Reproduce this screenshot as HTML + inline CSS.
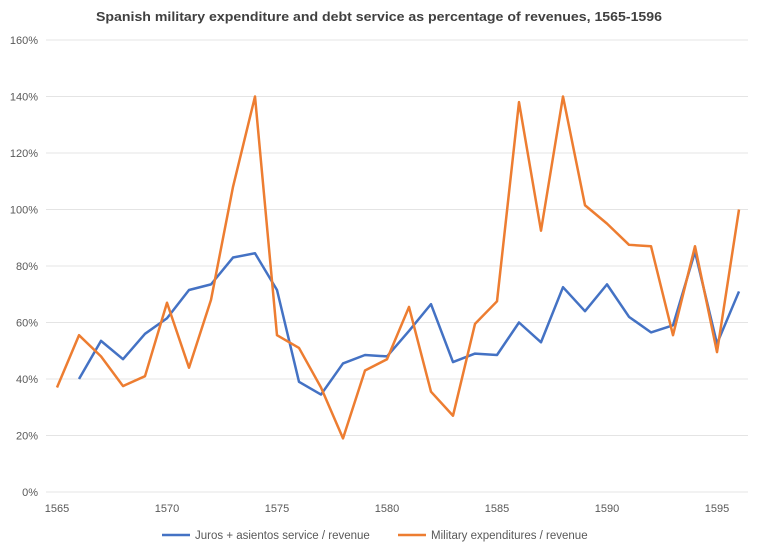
<!DOCTYPE html>
<html><head><meta charset="utf-8"><style>
body{margin:0;background:#fff;font-family:"Liberation Sans",sans-serif;}
svg text{font-family:"Liberation Sans",sans-serif;fill:#595959;}
</style></head><body>
<svg width="758" height="550">
<text x="379" y="21" text-anchor="middle" font-size="13" font-weight="bold" textLength="566" lengthAdjust="spacingAndGlyphs" style="fill:#404040">Spanish military expenditure and debt service as percentage of revenues, 1565-1596</text>
<g id="grid"></g><g id="xt"></g><g id="lines"></g>
<g>
<line x1="162" y1="535" x2="190" y2="535" stroke="#4472C4" stroke-width="2.5"/>
<text x="195" y="539" font-size="11.5">Juros + asientos service / revenue</text>
<line x1="398" y1="535" x2="426" y2="535" stroke="#ED7D31" stroke-width="2.5"/>
<text x="431" y="539" font-size="11.5">Military expenditures / revenue</text>
</g>
</svg>
<script>
const yTicks=[0,20,40,60,80,100,120,140,160];
const xTicks=[1565,1570,1575,1580,1585,1590,1595];
const militaryYears=[1565,1566,1567,1568,1569,1570,1571,1572,1573,1574,1575,1576,1577,1578,1579,1580,1581,1582,1583,1584,1585,1586,1587,1588,1589,1590,1591,1592,1593,1594,1595,1596];
const military=[37,55.5,48,37.5,41,67,44,68,108,140,55.5,51,37,19,43,47,65.5,35.5,27,59.5,67.5,138,92.5,140,101.5,95,87.5,87,55.5,87,49.5,100];
const jurosYears=[1566,1567,1568,1569,1570,1571,1572,1573,1574,1575,1576,1577,1578,1579,1580,1581,1582,1583,1584,1585,1586,1587,1588,1589,1590,1591,1592,1593,1594,1595,1596];
const juros=[40,53.5,47,56,61.5,71.5,73.5,83,84.5,71.5,39,34.5,45.5,48.5,48,57,66.5,46,49,48.5,60,53,72.5,64,73.5,62,56.5,59,85,52.5,71];
const NS="http://www.w3.org/2000/svg";
const X=y=>57+(y-1565)*22;
const Y=v=>492-v*2.825;
const grid=document.getElementById('grid');
yTicks.forEach(t=>{
 const l=document.createElementNS(NS,'line');
 
 
 l.setAttribute('x1',46);l.setAttribute('x2',748);l.setAttribute('y1',Y(t));l.setAttribute('y2',Y(t));
 l.setAttribute('stroke','#e4e4e4');l.setAttribute('stroke-width','1');
 grid.appendChild(l);
 const tx=document.createElementNS(NS,'text');
 
 
 tx.setAttribute('x',38);tx.setAttribute('y',Y(t)+4);tx.setAttribute('text-anchor','end');tx.setAttribute('font-size','11');
 tx.textContent=t+'%';grid.appendChild(tx);
});
const xt=document.getElementById('xt');
xTicks.forEach(t=>{
 const tx=document.createElementNS(NS,'text');
 
 
 tx.setAttribute('x',X(t));tx.setAttribute('y',512);tx.setAttribute('text-anchor','middle');tx.setAttribute('font-size','11');
 tx.textContent=t;xt.appendChild(tx);
});
const lines=document.getElementById('lines');
function draw(xs,vs,c,name){
 const p=document.createElementNS(NS,'polyline');
 
 
 p.setAttribute('points',xs.map((x,i)=>X(x)+','+Y(vs[i])).join(' '));
 p.setAttribute('fill','none');p.setAttribute('stroke',c);p.setAttribute('stroke-width','2.5');p.setAttribute('stroke-linejoin','round');
 lines.appendChild(p);
}
draw(jurosYears,juros,'#4472C4','juros-line');
draw(militaryYears,military,'#ED7D31','military-line');
</script>
</body></html>
